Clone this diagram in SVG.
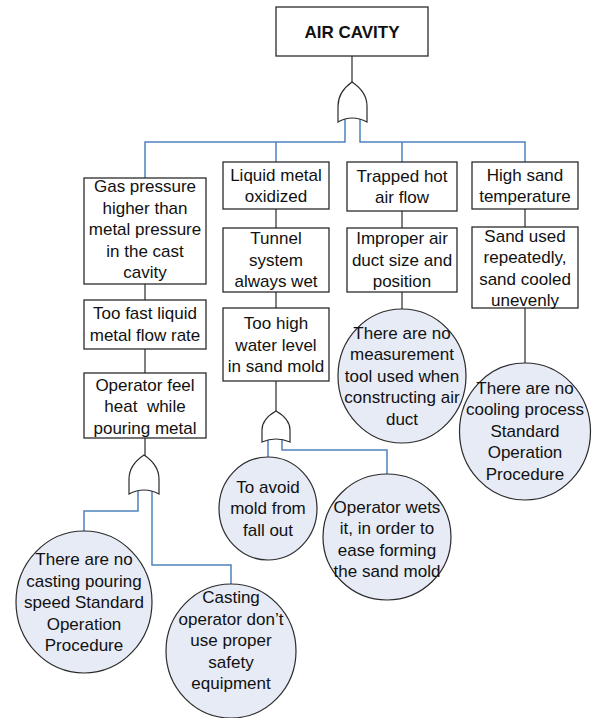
<svg xmlns="http://www.w3.org/2000/svg" width="592" height="718" viewBox="0 0 592 718">
<style>
.box{fill:#fff;stroke:#2b2b2b;stroke-width:1.3}
.ev{fill:#e6ebf6;stroke:#2b2b2b;stroke-width:1.2}
.gate{fill:#fff;stroke:#2b2b2b;stroke-width:1.2}
.k{fill:none;stroke:#2b2b2b;stroke-width:1.2}
.b{fill:none;stroke:#4f81bd;stroke-width:1.5}
text{font-family:"Liberation Sans",Arial,sans-serif;font-size:17px;fill:#111;text-anchor:middle}
.title{font-weight:bold}
</style>
<rect width="592" height="718" fill="#fff"/>
<g id="connectors">
<path class="k" d="M352,56V84"/>
<path class="b" d="M345,119V142H145V178M276,142V162"/>
<path class="b" d="M360,119V142H525V162M402,142V162"/>
<path class="k" d="M145,284V300M145,349V373M145,438V456"/>
<path class="k" d="M276,209V228M276,292V308M276,381V412"/>
<path class="k" d="M402,211V228M402,292V309"/>
<path class="k" d="M525,209V227M525,308V363"/>
<path class="b" d="M138,491V511H84V531"/>
<path class="b" d="M152,491V565H231V584"/>
<path class="b" d="M268,439V457"/>
<path class="b" d="M282,439V450H387V474"/>
</g>
<g id="gate1"><path class="gate" d="M352,82Q338,92 338,106V122Q352,114 367,122V106Q367,92 352,82Z"/></g>
<g id="gate2"><path class="gate" d="M144,455Q129,465 129,479V494Q144,486 159,494V479Q159,465 144,455Z"/></g>
<g id="gate3"><path class="gate" d="M276,411Q262,419 262,430V442Q276,436 290,442V430Q290,419 276,411Z"/></g>
<g id="n-air-cavity"><rect class="box" x="276" y="7" width="152" height="49"/><text class="title" x="352" y="38">AIR CAVITY</text></g>
<g id="n-gas-pressure"><rect class="box" x="84" y="178" width="122" height="106"/>
<text x="145"><tspan x="145" y="192">Gas pressure</tspan><tspan x="145" y="213.5">higher than</tspan><tspan x="145" y="235">metal pressure</tspan><tspan x="145" y="256.5">in the cast</tspan><tspan x="145" y="278">cavity</tspan></text></g>
<g id="n-too-fast"><rect class="box" x="84" y="300" width="122" height="49"/>
<text><tspan x="145" y="319">Too fast liquid</tspan><tspan x="145" y="340.5">metal flow rate</tspan></text></g>
<g id="n-operator-feel"><rect class="box" x="84" y="373" width="122" height="65"/>
<text xml:space="preserve"><tspan x="145" y="390.5">Operator feel</tspan><tspan x="145" y="412">heat  while</tspan><tspan x="145" y="433.5">pouring metal</tspan></text></g>
<g id="n-liquid-metal"><rect class="box" x="223" y="162" width="106" height="47"/>
<text><tspan x="276" y="180.5">Liquid metal</tspan><tspan x="276" y="202">oxidized</tspan></text></g>
<g id="n-tunnel"><rect class="box" x="223" y="228" width="106" height="64"/>
<text><tspan x="276" y="244">Tunnel</tspan><tspan x="276" y="265.5">system</tspan><tspan x="276" y="287">always wet</tspan></text></g>
<g id="n-too-high"><rect class="box" x="223" y="308" width="106" height="73"/>
<text><tspan x="276" y="329">Too high</tspan><tspan x="276" y="350.5">water level</tspan><tspan x="276" y="372">in sand mold</tspan></text></g>
<g id="n-trapped"><rect class="box" x="347" y="162" width="110" height="49"/>
<text><tspan x="402" y="181.5">Trapped hot</tspan><tspan x="402" y="203">air flow</tspan></text></g>
<g id="n-improper"><rect class="box" x="347" y="228" width="110" height="64"/>
<text><tspan x="402" y="244">Improper air</tspan><tspan x="402" y="265.5">duct size and</tspan><tspan x="402" y="287">position</tspan></text></g>
<g id="n-high-sand"><rect class="box" x="472" y="162" width="106" height="47"/>
<text><tspan x="525" y="180.5">High sand</tspan><tspan x="525" y="202">temperature</tspan></text></g>
<g id="n-sand-used"><rect class="box" x="472" y="227" width="106" height="81"/>
<text><tspan x="525" y="241.5">Sand used</tspan><tspan x="525" y="263">repeatedly,</tspan><tspan x="525" y="284.5">sand cooled</tspan><tspan x="525" y="306">unevenly</tspan></text></g>
<g id="e-measurement"><ellipse class="ev" cx="402" cy="376" rx="64" ry="67"/>
<text><tspan x="402" y="338.5">There are no</tspan><tspan x="402" y="360">measurement</tspan><tspan x="402" y="381.5">tool used when</tspan><tspan x="402" y="403">constructing air</tspan><tspan x="402" y="424.5">duct</tspan></text></g>
<g id="e-cooling"><ellipse class="ev" cx="525" cy="431.5" rx="65.5" ry="68.5"/>
<text><tspan x="525" y="393.5">There are no</tspan><tspan x="525" y="415">cooling process</tspan><tspan x="525" y="436.5">Standard</tspan><tspan x="525" y="458">Operation</tspan><tspan x="525" y="479.5">Procedure</tspan></text></g>
<g id="e-casting-pouring"><ellipse class="ev" cx="84" cy="602" rx="68" ry="71"/>
<text><tspan x="84" y="565">There are no</tspan><tspan x="84" y="586.5">casting pouring</tspan><tspan x="84" y="608">speed Standard</tspan><tspan x="84" y="629.5">Operation</tspan><tspan x="84" y="651">Procedure</tspan></text></g>
<g id="e-casting-operator"><ellipse class="ev" cx="231" cy="651" rx="65" ry="67"/>
<text><tspan x="231" y="603">Casting</tspan><tspan x="231" y="624.5">operator don’t</tspan><tspan x="231" y="646">use proper</tspan><tspan x="231" y="667.5">safety</tspan><tspan x="231" y="689">equipment</tspan></text></g>
<g id="e-avoid"><ellipse class="ev" cx="268" cy="508.5" rx="49" ry="51.5"/>
<text><tspan x="268" y="492.5">To avoid</tspan><tspan x="268" y="514">mold from</tspan><tspan x="268" y="535.5">fall out</tspan></text></g>
<g id="e-wets"><ellipse class="ev" cx="387" cy="537" rx="64" ry="63"/>
<text><tspan x="387" y="512.5">Operator wets</tspan><tspan x="387" y="534">it, in order to</tspan><tspan x="387" y="555.5">ease forming</tspan><tspan x="387" y="577">the sand mold</tspan></text></g>
</svg>
